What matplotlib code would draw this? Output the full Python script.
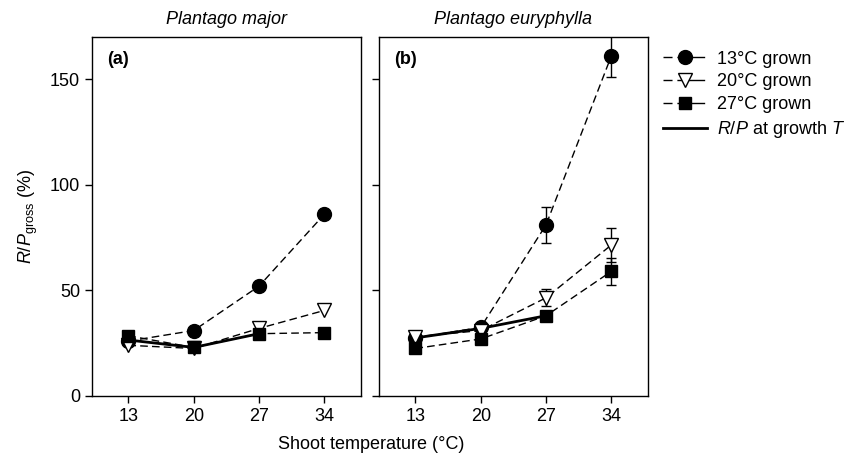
import matplotlib
matplotlib.use("Agg")
from matplotlib import pyplot as plt
from matplotlib.lines import Line2D

plt.rcParams["font.family"] = ["Liberation Sans", "DejaVu Sans"]
plt.rcParams["mathtext.fontset"] = "custom"
plt.rcParams["mathtext.rm"] = "Liberation Sans"
plt.rcParams["mathtext.it"] = "Liberation Sans:italic"
plt.rcParams["font.size"] = 13

shoot_temp = [13, 20, 27, 34]
growth_temp = [13, 20, 27]

# Plantago major (a)
major_13 = [26, 31, 52, 86]
major_20 = [24, 22.5, 32, 40.5]
major_27 = [28.5, 23, 29.5, 30]
major_growth = [26.5, 23, 29.5]

# Plantago euryphylla (b)
eury_13 = [27.5, 32.5, 81, 161]
eury_13_err = [1.5, 1.5, 8.5, 10]
eury_20 = [28, 31, 46.5, 71.5]
eury_20_err = [1.5, 1.5, 4, 8]
eury_27 = [22.5, 27, 38, 59]
eury_27_err = [1.5, 1.5, 2, 6.5]
eury_growth = [27.5, 32, 38]

fig = plt.figure(figsize=(8.64, 4.61), dpi=100)
ax_a = fig.add_axes([0.1065, 0.141, 0.311, 0.779])
ax_b = fig.add_axes([0.4387, 0.141, 0.311, 0.779])

dash = (0, (5.5, 3))
styles = [
    dict(marker="o", mfc="black", mec="black", ms=10),
    dict(marker="v", mfc="white", mec="black", ms=10),
    dict(marker="s", mfc="black", mec="black", ms=9),
]


def draw(ax, series, errs, growth):
    for i, (vals, st) in enumerate(zip(series, styles)):
        ax.plot(shoot_temp, vals, color="black", lw=1, ls=dash, zorder=3 + i, **st)
        if errs is not None:
            ax.errorbar(shoot_temp, vals, yerr=errs[i], fmt="none", ecolor="black",
                        elinewidth=1, capsize=3.5, capthick=1, zorder=2)
    ax.plot(growth_temp, growth, color="black", lw=2, zorder=2.5)
    ax.set_xlim(9.1, 37.9)
    ax.set_ylim(0, 170)
    ax.set_xticks(shoot_temp)
    ax.set_yticks([0, 50, 100, 150])
    ax.tick_params(direction="out", length=5, width=1, labelsize=13)
    for s in ax.spines.values():
        s.set_linewidth(1)


draw(ax_a, [major_13, major_20, major_27], None, major_growth)
draw(ax_b, [eury_13, eury_20, eury_27], [eury_13_err, eury_20_err, eury_27_err], eury_growth)
ax_b.tick_params(labelleft=False)

ax_a.set_title("Plantago major", style="italic", fontsize=13, pad=9)
ax_b.set_title("Plantago euryphylla", style="italic", fontsize=13, pad=9)
ax_a.text(0.055, 0.96, "(a)", transform=ax_a.transAxes, fontweight="bold",
          fontsize=13, va="top")
ax_b.text(0.055, 0.96, "(b)", transform=ax_b.transAxes, fontweight="bold",
          fontsize=13, va="top")

ax_a.set_ylabel(r"$R$/$P_{\mathrm{gross}}$ (%)", fontsize=13, labelpad=7)
fig.text(0.43, 0.025, "Shoot temperature (°C)", ha="center", fontsize=13)

leg_dash = (0, (6.5, 3.5, 20, 10))
handles = [
    Line2D([], [], color="black", lw=1, ls=leg_dash, **styles[0]),
    Line2D([], [], color="black", lw=1, ls=leg_dash, **styles[1]),
    Line2D([], [], color="black", lw=1, ls=leg_dash, **styles[2]),
    Line2D([], [], color="black", lw=2),
]
labels = ["13°C grown", "20°C grown", "27°C grown", r"$R$/$P$ at growth $T$"]
fig.legend(handles, labels, loc="upper left", bbox_to_anchor=(0.757, 0.91),
           frameon=False, fontsize=13, handlelength=2.45, handletextpad=0.55,
           labelspacing=0.32, borderpad=0)

fig.savefig("out.png", dpi=100)
